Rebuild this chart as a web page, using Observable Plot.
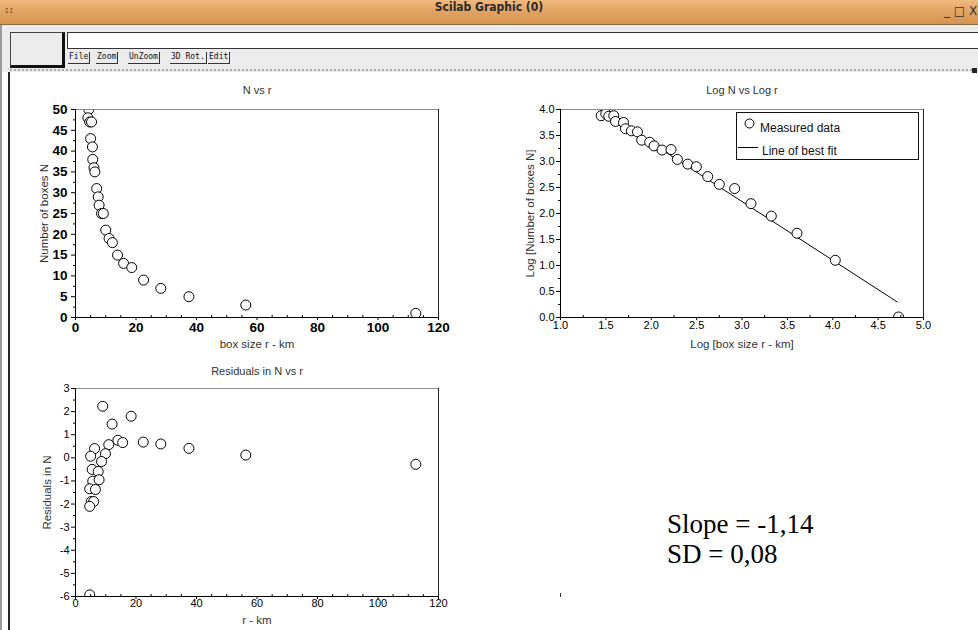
<!DOCTYPE html>
<html><head><meta charset="utf-8">
<script src="https://cdn.jsdelivr.net/npm/d3@7"></script>
<script src="https://cdn.jsdelivr.net/npm/@observablehq/plot@0.6"></script>
<style>
body{margin:0;background:#fff;}
#win{position:relative;width:978px;height:630px;overflow:hidden;background:#fff;font-family:"Liberation Sans",Arial,sans-serif;}
.abs{position:absolute;}
.btn{position:absolute;top:52px;height:11px;line-height:11px;font:8px "DejaVu Sans Mono",monospace;color:#111;border-right:1px solid #333;border-bottom:1px solid #333;padding:0 1px;white-space:nowrap;}
</style></head><body>
<div id="win">
  <!-- window chrome -->
  <div class="abs" style="left:0;top:0;width:978px;height:24px;background:linear-gradient(#f0b97f,#e0a060 55%,#d69450);border-bottom:1px solid #8a6a40;"></div>
  <div class="abs" style="left:0;top:0;width:978px;height:24px;line-height:23px;text-align:center;font:bold 12px 'DejaVu Sans Condensed','DejaVu Sans',sans-serif;color:#2a2a2a;">Scilab Graphic (0)</div>
  <div class="abs" style="left:5px;top:5px;font:bold 9px 'DejaVu Sans',sans-serif;color:#7a5a30;letter-spacing:1px;">::</div>
  <div class="abs" style="left:944px;top:4px;width:60px;white-space:nowrap;font:12px 'DejaVu Sans',sans-serif;color:#333;">_ □ X</div>
  <div class="abs" style="left:0;top:25px;width:978px;height:47px;background:#ececec;border-left:2px solid #9a9a9a;box-sizing:border-box;"></div>
  <div class="abs" style="left:10px;top:32px;width:51px;height:32px;background:#ececec;border:1px solid #444;border-right:3px solid #111;border-bottom:3px solid #111;"></div>
  <div class="abs" style="left:67px;top:32px;width:915px;height:15px;background:#fff;border:1px solid #333;"></div>
  <div class="btn" style="left:68px;">File</div>
  <div class="btn" style="left:96px;">Zoom</div>
  <div class="btn" style="left:128px;">UnZoom</div>
  <div class="btn" style="left:170px;">3D Rot.</div>
  <div class="btn" style="left:208px;">Edit</div>
  <div class="abs" style="left:10px;top:69px;width:962px;height:0;border-top:2px dotted #aaa;"></div>
  <div class="abs" style="left:972px;top:68px;width:5px;height:5px;background:#222;"></div>
  <div class="abs" style="left:0;top:72px;width:2px;height:558px;background:#9a9a9a;"></div>
  <div class="abs" style="left:8px;top:72px;width:2px;height:558px;background:#222;z-index:5;"></div>
  <!-- legend of the log plot -->
  <div class="abs" style="left:736px;top:112px;width:181px;height:46px;border:1px solid #111;background:#fff;z-index:4;font:12px 'Liberation Sans',Arial,sans-serif;color:#111;">
    <svg class="abs" style="left:0;top:0" width="30" height="46">
      <circle cx="12.5" cy="10.5" r="4.5" fill="#fff" stroke="#000"/>
      <line x1="1" x2="21" y1="34.5" y2="34.5" stroke="#000"/>
    </svg>
    <div class="abs" style="left:23px;top:8px;">Measured data</div>
    <div class="abs" style="left:25px;top:31px;">Line of best fit</div>
  </div>
  <!-- fit statistics -->
  <div class="abs" style="left:667px;top:509px;font:27px 'Liberation Serif','Times New Roman',serif;color:#000;line-height:30px;">Slope = -1,14<br>SD = 0,08</div>
  <div class="abs" style="left:560px;top:593px;width:1px;height:4px;background:#333;"></div>
</div>
<script>
// ---- N vs r ----
const rKm    = [4.4, 4.1, 4.7, 5.3, 5.0, 5.6, 5.7, 6.1, 6.4, 7.0, 7.5, 7.8, 8.6, 9.2, 10.0, 11.1, 12.2, 13.9, 15.9, 18.6, 22.5, 28.2, 37.5, 56.3, 112.5];
const nBoxes = [50, 48, 47, 47, 43, 41, 38, 36, 35, 31, 29, 27, 25, 25, 21, 19, 18, 15, 13, 12, 9, 7, 5, 3, 1];
// ---- Log N vs Log r ----
const logR = [1.448,1.499,1.532,1.587,1.606,1.694,1.716,1.782,1.848,1.895,1.983,2.031,2.119,2.218,2.288,2.402,2.497,2.622,2.750,2.919,3.099,3.323,3.606,4.028,4.725];
const logN = [3.88,3.92,3.87,3.88,3.77,3.75,3.63,3.59,3.57,3.41,3.37,3.30,3.22,3.23,3.04,2.95,2.90,2.71,2.56,2.48,2.19,1.95,1.62,1.10,0.01];
const fitX = [1.44, 4.71];
const fitY = [3.99, 0.30];
// ---- Residuals ----
const resR = [9.0, 18.4, 12.1, 14.0, 15.6, 22.4, 11.0, 9.9, 6.3, 5.0, 8.6, 5.5, 7.5, 5.7, 7.8, 4.7, 6.6, 5.2, 6.0, 4.7, 4.7, 28.2, 37.5, 56.3, 112.5];
const resV = [2.23, 1.80, 1.46, 0.76, 0.66, 0.68, 0.57, 0.18, 0.40, 0.07, -0.16, -0.50, -0.59, -1.01, -0.95, -1.34, -1.37, -1.89, -1.89, -2.10, -5.93, 0.60, 0.41, 0.12, -0.28];
// ---- ticks ----
const p1XTicks = [0, 20, 40, 60, 80, 100, 120];
const p1YTicks = [0, 5, 10, 15, 20, 25, 30, 35, 40, 45, 50];
const p2XTicks = [1.0, 1.5, 2.0, 2.5, 3.0, 3.5, 4.0, 4.5, 5.0];
const p2YTicks = [0.0, 0.5, 1.0, 1.5, 2.0, 2.5, 3.0, 3.5, 4.0];
const p3YTicks = [-6, -5, -4, -3, -2, -1, 0, 1, 2, 3];

const FONT = '"Liberation Sans", Arial, sans-serif';
const minors = (lo, hi, step, majors) => d3.range(lo, hi + step / 2, step).filter(v => !majors.some(m => Math.abs(m - v) < 1e-9));

function makePlot(o) {
  const svg = Plot.plot({
    width: o.w, height: o.h,
    marginLeft: o.ml, marginRight: o.mr, marginTop: o.mt, marginBottom: o.mb,
    style: {fontFamily: FONT, background: "transparent", overflow: "visible", color: "#000"},
    x: {domain: o.xDomain},
    y: {domain: o.yDomain},
    marks: [
      ...o.marks,
      Plot.frame({stroke: "#8c8c8c"}),
      Plot.ruleX([o.xDomain[1]], {stroke: "#222"}),
      Plot.ruleX([o.xDomain[0]], {stroke: "#000"}),
      Plot.ruleY([o.yDomain[0]], {stroke: "#000"}),
      Plot.axisX({ticks: o.xTicks, tickSize: 3, tickPadding: o.xPad, tickFormat: o.xFmt, label: null,
        fontSize: o.tickFont, fontWeight: o.tickWeight, fill: "#000"}),
      Plot.axisX({ticks: o.xMinor, tickSize: -2, tickFormat: () => "", label: null}),
      Plot.axisY({ticks: o.yTicks, tickSize: 4, tickPadding: o.yPad, tickFormat: o.yFmt, label: null,
        fontSize: o.tickFont, fontWeight: o.tickWeight, fill: "#000"}),
      Plot.axisY({ticks: o.yMinor, tickSize: 2, tickFormat: () => "", label: null}),
      Plot.text([o.title], {text: d => d, frameAnchor: "top", lineAnchor: "middle", dy: o.titleDy, fontSize: 11, fill: "#333"}),
      Plot.text([o.xLabel], {text: d => d, frameAnchor: "bottom", lineAnchor: "middle", dy: o.xLabelDy, fontSize: 11.5, fill: "#333"}),
      Plot.text([o.yLabel], {text: d => d, frameAnchor: "left", textAnchor: "middle", lineAnchor: "middle", dx: o.yLabelDx, rotate: -90, fontSize: 11.5, fill: "#333"})
    ]
  });
  svg.style.position = "absolute";
  svg.style.left = o.left + "px";
  svg.style.top = o.top + "px";
  document.getElementById("win").appendChild(svg);
}

const dotStyle = {r: 5, stroke: "#000", fill: "#fff", strokeWidth: 1, clip: true};

// Plot 1: N vs r
makePlot({
  left: 0, top: 80, w: 470, h: 270, ml: 75, mr: 32, mt: 29, mb: 33,
  xDomain: [0, 120], yDomain: [0, 50],
  xTicks: p1XTicks, xMinor: minors(0, 120, 5, p1XTicks),
  yTicks: p1YTicks, yMinor: minors(0, 50, 2.5, p1YTicks),
  xFmt: d => String(d), yFmt: d => String(d), xPad: 2, yPad: 4,
  tickFont: 13.5, tickWeight: "bold",
  title: "N vs r", titleDy: -19,
  xLabel: "box size r - km", xLabelDy: 27,
  yLabel: "Number of boxes N", yLabelDx: -31,
  marks: [Plot.dot(rKm.map((r, i) => ({rv: r, nv: nBoxes[i]})), {x: "rv", y: "nv", ...dotStyle})]
});

// Plot 2: Log N vs Log r
makePlot({
  left: 480, top: 80, w: 478, h: 270, ml: 80, mr: 35, mt: 29, mb: 33,
  xDomain: [1, 5], yDomain: [0, 4],
  xTicks: p2XTicks, xMinor: minors(1, 5, 0.25, p2XTicks),
  yTicks: p2YTicks, yMinor: minors(0, 4, 0.25, p2YTicks),
  xFmt: d3.format(".1f"), yFmt: d3.format(".1f"), xPad: 1, yPad: 2,
  tickFont: 11, tickWeight: "normal",
  title: "Log N vs Log r", titleDy: -19,
  xLabel: "Log [box size r - km]", xLabelDy: 27,
  yLabel: "Log [Number of boxes N]", yLabelDx: -30,
  marks: [
    Plot.line(fitX.map((x, i) => ({lx: x, ly: fitY[i]})), {x: "lx", y: "ly", stroke: "#000", strokeWidth: 1}),
    Plot.dot(logR.map((x, i) => ({lx: x, ly: logN[i]})), {x: "lx", y: "ly", ...dotStyle})
  ]
});

// Plot 3: Residuals in N vs r
makePlot({
  left: 0, top: 358, w: 470, h: 272, ml: 75, mr: 32, mt: 30, mb: 34,
  xDomain: [0, 120], yDomain: [-6, 3],
  xTicks: p1XTicks, xMinor: minors(0, 120, 5, p1XTicks),
  yTicks: p3YTicks, yMinor: minors(-6, 3, 0.5, p3YTicks),
  xFmt: d => String(d), yFmt: d => String(d), xPad: 0, yPad: 2,
  tickFont: 11, tickWeight: "normal",
  title: "Residuals in N vs r", titleDy: -17,
  xLabel: "r - km", xLabelDy: 24,
  yLabel: "Residuals in N", yLabelDx: -28,
  marks: [Plot.dot(resR.map((x, i) => ({rx: x, ry: resV[i]})), {x: "rx", y: "ry", ...dotStyle})]
});
</script>
</body></html>
